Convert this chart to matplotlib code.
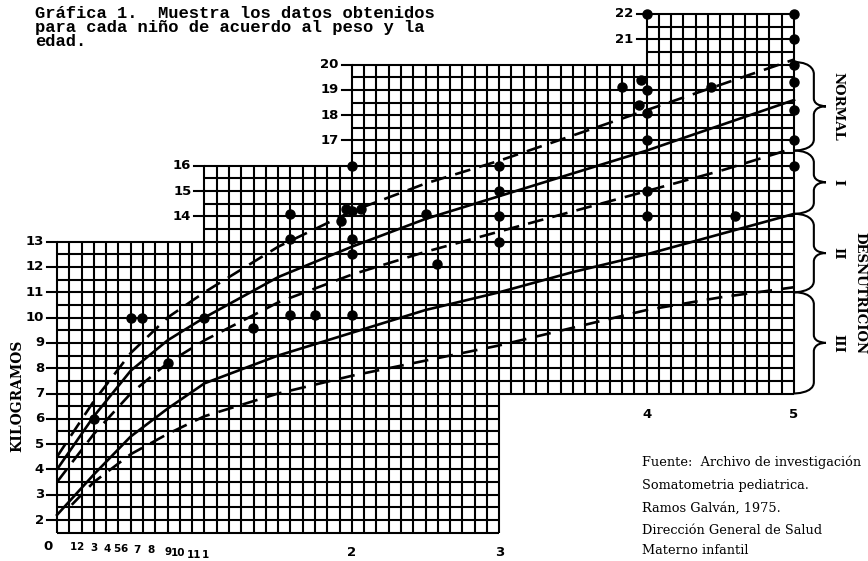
import matplotlib
matplotlib.use('Agg')
import matplotlib.pyplot as plt
from matplotlib.path import Path
from matplotlib.patches import PathPatch

# ---------------- data ----------------
ages = [0, 0.25, 0.5, 0.75, 1, 1.5, 2, 2.5, 3, 3.5, 4, 4.5, 5]
p110 = [4.5, 6.7, 8.6, 10.0, 11.0, 12.8, 14.2, 15.3, 16.2, 17.2, 18.2, 19.2, 20.2]
p100 = [4.0, 6.1, 7.9, 9.1, 10.0, 11.6, 12.8, 13.9, 14.8, 15.7, 16.6, 17.6, 18.6]
p90 = [3.5, 5.4, 7.0, 8.2, 9.1, 10.6, 11.7, 12.6, 13.4, 14.2, 15.0, 15.8, 16.7]
p75 = [2.2, 3.8, 5.3, 6.4, 7.4, 8.5, 9.4, 10.3, 11.0, 11.8, 12.5, 13.3, 14.1]
ages60 = [0.1, 0.25, 0.5, 0.75, 1, 1.5, 2, 2.5, 3, 3.5, 4, 4.5, 5]
p60 = [2.6, 3.5, 4.6, 5.4, 6.1, 7.0, 7.7, 8.3, 8.9, 9.6, 10.3, 10.8, 11.2]

child_age = [0.25, 0.5, 0.58, 0.75, 1.0, 1.33, 1.58, 1.58, 1.58, 1.75, 1.93, 1.96,
             2.0, 2.0, 2.0, 2.0, 2.0, 2.06, 2.5, 2.58, 3, 3, 3, 3,
             3.83, 3.96, 3.95, 4, 4, 4, 4, 4, 4, 4.44, 4.6,
             5, 5, 5, 5, 5, 5, 5]
child_kg = [6, 10, 10, 8.2, 10, 9.6, 14.1, 13.1, 10.1, 10.1, 13.8, 14.3,
            16, 14.2, 13.1, 12.5, 10.1, 14.3, 14.1, 12.1, 16, 15, 14, 13,
            19.1, 19.4, 18.4, 19, 18.1, 17, 15, 14, 22, 19.1, 14,
            22, 21, 20, 19.3, 18.2, 17, 16]

# staircase grid sections: (x0, x1, kg_bottom, kg_top)
sections = [(0, 1, 1.5, 13), (1, 2, 1.5, 16), (2, 3, 1.5, 20), (3, 4, 7, 20), (4, 5, 7, 22)]

ytick_groups = [(0, list(range(2, 14))), (1, [14, 15, 16]), (2, [17, 18, 19, 20]), (4, [21, 22])]

month_labels = ['1', '2', '3', '4', '5', '6', '7', '8', '9', '10', '11', '1']
year_labels = ['2', '3', '4', '5']

braces = [(16.6, 20.1, 'NORMAL'), (14.1, 16.6, 'I'), (11.0, 14.1, 'II'), (7.0, 11.0, 'III')]

title_lines = ['Gráfica 1.  Muestra los datos obtenidos',
               'para cada niño de acuerdo al peso y la',
               'edad.']
source_lines = ['Fuente:  Archivo de investigación',
                'Somatometria pediatrica.',
                'Ramos Galván, 1975.',
                'Dirección General de Salud',
                'Materno infantil']

# ---------------- figure ----------------
W, H = 868, 561
fig = plt.figure(figsize=(W / 100, H / 100), dpi=100)
ax = fig.add_axes([0, 0, 1, 1])
X0, XS = 57, 147.4
Y2, YS = 520, 25.3
ax.set_xlim(-X0 / XS, (W - X0) / XS)
ax.set_ylim(2 - (H - Y2) / YS, 2 + Y2 / YS)
ax.axis('off')


def dx(px):
    return (px - X0) / XS


def dy(py):
    return 2 + (Y2 - py) / YS


GLW = 1.5
# horizontal grid lines every 0.5 kg
y = 1.5
while y <= 22.001:
    secs = [s for s in sections if s[2] - 1e-9 <= y <= s[3] + 1e-9]
    if secs:
        ax.hlines(y, min(s[0] for s in secs), max(s[1] for s in secs),
                  color='black', lw=GLW, zorder=1)
    y += 0.5
# vertical grid lines every month
for k in range(61):
    x = k / 12
    secs = [s for s in sections if s[0] - 1e-9 <= x <= s[1] + 1e-9]
    ax.vlines(x, min(s[2] for s in secs), max(s[3] for s in secs),
              color='black', lw=GLW, zorder=1)

# reference curves
dash = (0, (6, 3.5))
ax.plot(ages, p110, color='black', lw=1.9, ls=dash, zorder=3)
ax.plot(ages, p100, color='black', lw=1.9, zorder=3)
ax.plot(ages, p90, color='black', lw=1.9, ls=dash, zorder=3)
ax.plot(ages, p75, color='black', lw=1.9, zorder=3)
ax.plot(ages60, p60, color='black', lw=1.9, ls=dash, zorder=3)

# children
ax.plot(child_age, child_kg, 'o', color='black', ms=6.5, zorder=4)

# y tick labels at each step
tick_len = 10 / XS
lab_font = dict(family='DejaVu Sans', weight='bold', size=9.5)
for xe, vals in ytick_groups:
    for v in vals:
        ax.plot([xe - tick_len, xe], [v, v], color='black', lw=1.5, zorder=2)
        ax.text(xe - 13 / XS, v, str(v), ha='right', va='center', **lab_font)

# x labels
ax.text(dx(48), dy(546), '0', ha='center', va='center', **lab_font)
mpx = [73, 80, 94, 107, 117, 124, 137, 151, 168, 178, 194, 205]
mpy = [547, 547, 548, 549, 549, 549, 550, 550, 552, 553, 555, 555]
for lab, px, py in zip(month_labels, mpx, mpy):
    ax.text(dx(px), dy(py), lab, ha='center', va='center',
            family='DejaVu Sans', weight='bold', size=7.5)
ax.text(2, dy(552), year_labels[0], ha='center', va='center', **lab_font)
ax.text(3, dy(552), year_labels[1], ha='center', va='center', **lab_font)
ax.text(4, dy(415), year_labels[2], ha='center', va='center', **lab_font)
ax.text(5, dy(415), year_labels[3], ha='center', va='center', **lab_font)

ax.text(dx(17), dy(396), 'KILOGRAMOS', rotation=90, ha='center', va='center',
        family='DejaVu Serif', weight='bold', size=10)


# braces
def draw_brace(y0, y1):
    x0 = 5.0
    w = 32 / XS
    xa = x0 + 0.62 * w
    r = 0.45
    ym = (y0 + y1) / 2
    verts = [(x0, y1), (xa, y1), (xa, y1 - r), (xa, y1 - r),
             (xa, ym + r * 0.7),
             (xa, ym), (x0 + w, ym), (x0 + w, ym),
             (xa, ym), (xa, ym - r * 0.7), (xa, ym - r * 0.7),
             (xa, y0 + r),
             (xa, y0), (x0, y0), (x0, y0)]
    codes = [Path.MOVETO, Path.CURVE4, Path.CURVE4, Path.CURVE4,
             Path.LINETO,
             Path.CURVE4, Path.CURVE4, Path.CURVE4,
             Path.CURVE4, Path.CURVE4, Path.CURVE4,
             Path.LINETO,
             Path.CURVE4, Path.CURVE4, Path.CURVE4]
    ax.add_patch(PathPatch(Path(verts, codes), fill=False, lw=1.5,
                           edgecolor='black', clip_on=False, zorder=3))


side_font = dict(family='DejaVu Serif', weight='bold', size=9.5)
for y0, y1, lab in braces:
    draw_brace(y0, y1)
    ax.text(dx(838), (y0 + y1) / 2, lab, rotation=-90, ha='center', va='center', **side_font)
ax.text(dx(860), dy(293), 'DESNUTRICION', rotation=-90, ha='center', va='center', **side_font)

# title
for i, line in enumerate(title_lines):
    fig.text(35 / W, 1 - (13 + 14.5 * i) / H, line, ha='left', va='center',
             family='Liberation Mono', weight='bold', size=12.3)

# source notes
spy = [462, 485, 508, 530, 551]
for line, py in zip(source_lines, spy):
    fig.text(642 / W, 1 - py / H, line, ha='left', va='center',
             family='DejaVu Serif', size=9.3)

fig.savefig('out.png', dpi=100)
